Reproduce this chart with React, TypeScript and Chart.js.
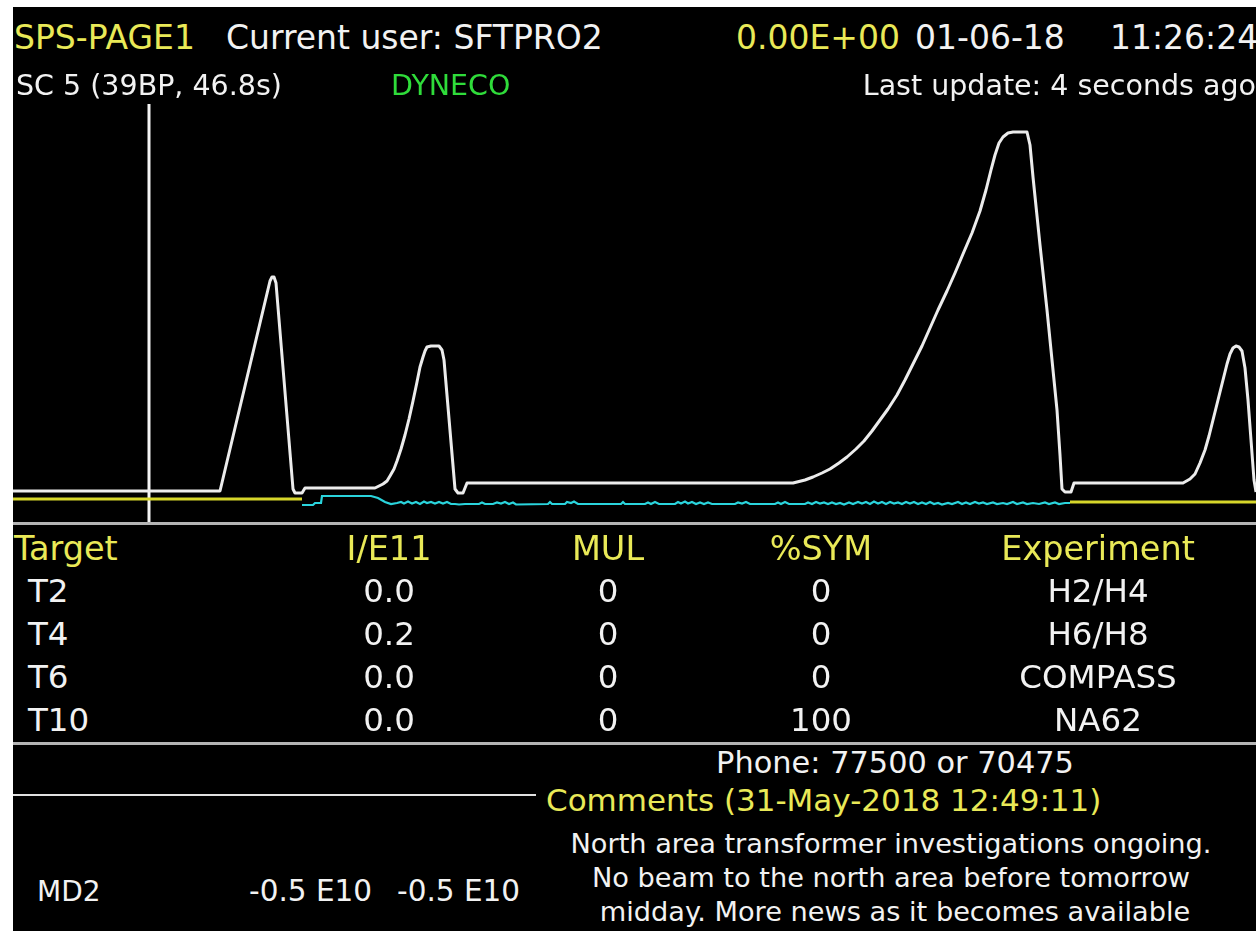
import React, { useEffect, useRef } from "react";
import { Chart, registerables } from "chart.js";

Chart.register(...registerables);

// Beam current / intensity trace (x = time in samples, y = signal in a.u.)
const waveX = [0, 207, 257, 259, 261, 263, 280, 282, 289, 292, 362, 370, 374, 377, 381, 384, 388, 392, 396, 400, 404, 407, 410, 412, 414, 418, 426, 429, 431, 442, 445, 450, 454,
  780, 792, 800, 809, 817, 826, 834, 843, 851, 859, 867, 875, 884, 892, 900, 909, 917, 925, 934, 942, 950, 959, 967, 973, 978, 982, 986, 990, 995, 1000, 1014,
  1017, 1020, 1027, 1034, 1039, 1044, 1047, 1049, 1052, 1058, 1061,
  1170, 1177, 1182, 1187, 1192, 1196, 1200, 1205, 1210, 1214, 1217, 1220, 1223, 1226, 1229, 1232, 1235, 1238, 1241, 1243];
const waveY = [33, 33, 243, 247, 247, 241, 35, 31, 31, 36, 36, 40, 43, 48, 55, 63, 75, 89, 105, 123, 142, 157, 167, 173, 177, 178, 178, 174, 164, 35, 31, 31, 41,
  41, 44, 47, 51, 55, 61, 67, 75, 83, 93, 104, 115, 129, 144, 160, 178, 196, 214, 233, 251, 270, 291, 313, 334, 354, 369, 381, 387, 391, 392, 392,
  379, 347, 279, 214, 164, 114, 69, 35, 32, 32, 41,
  41, 45, 50, 61, 74, 88, 104, 124, 144, 160, 170, 176, 178, 177, 173, 156, 124, 84, 44, 32];

// Extraction marker
const markerX = [136, 136];
const markerY = [0, 420];

// Yellow reference (before / after extraction)
const refLeftX = [0, 289];
const refLeftY = [25, 25];
const refRightX = [1057, 1243];
const refRightY = [22, 22];

// Cyan spill signal
const spillX = [289, 300, 302, 308, 309, 358, 365, 372, 378, 384, 388, 391, 395, 399, 403, 407, 411, 414, 418, 422, 426, 430, 434, 438, 442, 446, 452, 466, 469, 472, 480, 484, 488, 492, 496, 500, 503, 535, 537, 539, 552, 554, 558, 561, 565, 608, 610, 612, 632, 635, 638, 642, 646, 662, 665, 668, 672, 675, 679, 683, 687, 691, 695, 699, 722, 725, 729, 733, 737, 762, 765, 768, 772, 776, 792, 795, 799, 803, 807, 811, 815, 819, 823, 827, 831, 836, 840, 845, 849, 853, 857, 861, 865, 869, 873, 877, 881, 885, 889, 893, 897, 901, 905, 909, 913, 917, 921, 925, 929, 935, 939, 945, 949, 953, 957, 962, 966, 970, 974, 980, 984, 990, 994, 1000, 1004, 1010, 1014, 1020, 1026, 1032, 1036, 1042, 1046, 1052, 1057];
const spillY = [19, 19, 21, 21, 28, 28, 26, 22, 20, 21, 22, 20.5, 22.5, 20.5, 22, 20, 22.5, 21, 22, 20.5, 22, 20.5, 22, 20, 20, 19.5, 20, 20, 21.5, 20, 20, 21.5, 20.5, 22, 20, 21.5, 19.5, 20, 22, 20, 20, 22, 21, 22.5, 20, 20, 22, 20, 20, 21.5, 20, 22, 20, 20, 22, 20.5, 22.5, 20.5, 22, 20, 21.5, 20, 21.5, 20, 20, 21.5, 20.5, 22, 20, 20, 21.5, 20, 22, 20, 20, 21.5, 20, 22, 20.5, 21.5, 20, 21.5, 20, 21, 19.5, 21.5, 20, 22, 20.5, 22, 20, 22.5, 20.5, 22, 20, 22, 20.5, 21.5, 20, 22, 20.5, 22, 20, 21.5, 20, 22, 20, 21, 19.5, 21, 20, 22, 20, 21.5, 20, 22, 20.5, 21.5, 20, 21.5, 20, 21, 20, 22, 20, 21.5, 20, 21, 20, 21.5, 20, 21.5, 20, 21, 21];

const tableHeaders = ["Target", "I/E11", "MUL", "%SYM", "Experiment"];
const targets = ["T2", "T4", "T6", "T10"];
const intensities = ["0.0", "0.2", "0.0", "0.0"];
const multiplicities = ["0", "0", "0", "0"];
const symmetries = ["0", "0", "0", "100"];
const experiments = ["H2/H4", "H6/H8", "COMPASS", "NA62"];

const zip = (xs: number[], ys: number[]) => xs.map((x, i) => ({ x, y: ys[i] }));

const FONT = "'DejaVu Sans', sans-serif";
const YEL = "#e9e957";
const WHT = "#f2f2f2";

function T(props: { x: number; y: number; s: number; c?: string; align?: "left" | "center" | "right"; children: React.ReactNode }) {
  const { x, y, s, c = WHT, align = "left", children } = props;
  const top = y - s * 0.48;
  const style: React.CSSProperties = {
    position: "absolute",
    top,
    fontFamily: FONT,
    fontSize: s,
    lineHeight: 1,
    color: c,
    whiteSpace: "pre",
  };
  if (align === "left") style.left = x;
  else if (align === "center") {
    style.left = x - 400;
    style.width = 800;
    style.textAlign = "center";
  } else {
    style.right = 1256 - x;
    style.textAlign = "right";
  }
  return <div style={style}>{children}</div>;
}

export default function App() {
  const ref = useRef<HTMLCanvasElement | null>(null);

  useEffect(() => {
    if (!ref.current) return;
    const chart = new Chart(ref.current, {
      type: "line",
      data: {
        datasets: [
          { data: zip(refLeftX, refLeftY), borderColor: "#d6d62a", borderWidth: 3, pointRadius: 0, tension: 0 },
          { data: zip(refRightX, refRightY), borderColor: "#d6d62a", borderWidth: 3, pointRadius: 0, tension: 0 },
          { data: zip(spillX, spillY), borderColor: "#2ad4dc", borderWidth: 2.2, pointRadius: 0, tension: 0 },
          { data: zip(waveX, waveY), borderColor: "#ececec", borderWidth: 3, pointRadius: 0, tension: 0, borderJoinStyle: "round" },
          { data: zip(markerX, markerY), borderColor: "#f4f4f4", borderWidth: 3, pointRadius: 0, tension: 0 },
        ],
      },
      options: {
        responsive: false,
        animation: false,
        events: [],
        layout: { padding: 0 },
        plugins: { legend: { display: false }, tooltip: { enabled: false } },
        scales: {
          x: { type: "linear", min: 0, max: 1243, display: false },
          y: { type: "linear", min: 0, max: 424, display: false },
        },
      },
    });
    return () => chart.destroy();
  }, []);

  const colX = [14, 389, 608, 821, 1098];
  const rowY = [591, 634, 677, 720];

  return (
    <div style={{ position: "fixed", left: 0, top: 0, width: 1256, height: 931, background: "#fff", overflow: "hidden" }}>
      <div style={{ position: "absolute", left: 13, top: 7, right: 0, bottom: 0, background: "#000" }} />
      <canvas ref={ref} width={1243} height={424} style={{ position: "absolute", left: 13, top: 100, width: 1243, height: 424 }} />

      <T x={14} y={37} s={33} c={YEL}>SPS-PAGE1</T>
      <T x={226} y={37} s={33}>Current user: SFTPRO2</T>
      <T x={736} y={37} s={33} c={YEL}>0.00E+00</T>
      <T x={915} y={37} s={33}>01-06-18</T>
      <T x={1110} y={37} s={33}>11:26:24</T>

      <T x={16} y={86} s={28.5}>SC 5 (39BP, 46.8s)</T>
      <T x={391} y={86} s={28.5} c="#2fdc3a">DYNECO</T>
      <T x={1256} y={86} s={28.5} align="right">Last update: 4 seconds ago</T>

      <div style={{ position: "absolute", left: 13, top: 522, width: 1243, height: 3, background: "#b4b4b4" }} />

      <T x={colX[0]} y={548} s={33.5} c={YEL}>{tableHeaders[0]}</T>
      {tableHeaders.slice(1).map((h, i) => (
        <T key={h} x={colX[i + 1]} y={548} s={33.5} c={YEL} align="center">{h}</T>
      ))}
      {targets.map((t, r) => (
        <React.Fragment key={t}>
          <T x={28} y={rowY[r]} s={32.5}>{t}</T>
          <T x={colX[1]} y={rowY[r]} s={32.5} align="center">{intensities[r]}</T>
          <T x={colX[2]} y={rowY[r]} s={32.5} align="center">{multiplicities[r]}</T>
          <T x={colX[3]} y={rowY[r]} s={32.5} align="center">{symmetries[r]}</T>
          <T x={colX[4]} y={rowY[r]} s={32.5} align="center">{experiments[r]}</T>
        </React.Fragment>
      ))}

      <div style={{ position: "absolute", left: 13, top: 742, width: 1243, height: 3, background: "#b4b4b4" }} />

      <T x={895} y={763} s={30.4} align="center">Phone: 77500 or 70475</T>
      <div style={{ position: "absolute", left: 13, top: 794, width: 523, height: 2, background: "#e0e0e0" }} />
      <T x={546} y={800} s={31} c={YEL}>Comments (31-May-2018 12:49:11)</T>
      <T x={891} y={843} s={27.2} align="center">North area transformer investigations ongoing.</T>
      <T x={891} y={877} s={27.2} align="center">No beam to the north area before tomorrow</T>
      <T x={895} y={911} s={27.2} align="center">midday. More news as it becomes available</T>

      <T x={37} y={891} s={28}>MD2</T>
      <T x={249} y={891} s={29.5}>-0.5 E10</T>
      <T x={397} y={891} s={29.5}>-0.5 E10</T>
    </div>
  );
}
